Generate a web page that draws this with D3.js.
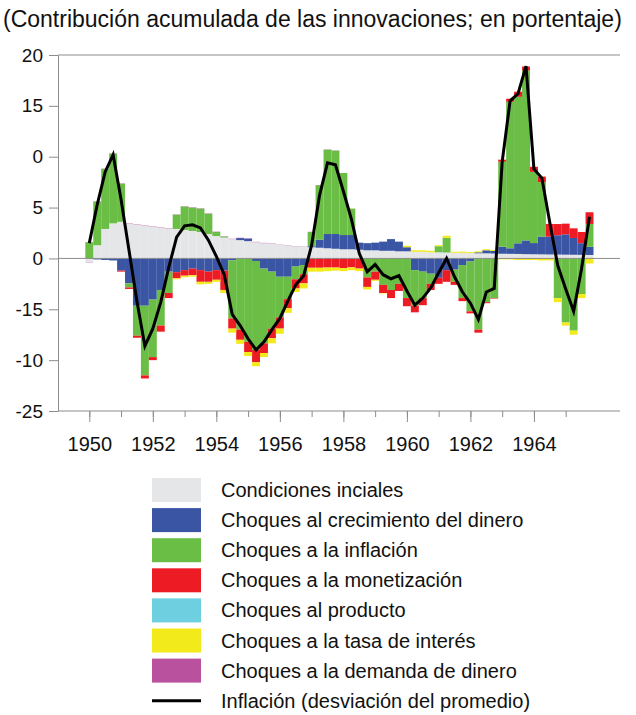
<!DOCTYPE html>
<html>
<head>
<meta charset="utf-8">
<script src="https://cdn.jsdelivr.net/npm/d3@7"></script>
<style>
  body { margin: 0; background: #fff; }
  svg { display: block; font-family: "Liberation Sans", Arial, sans-serif; }
</style>
</head>
<body>
<div id="chart"></div>
<script>
// trimestres 1950T1 - 1965T4
const years = d3.range(1950, 1966);
const quarters = [0, 0.25, 0.5, 0.75];

// contribuciones acumuladas (puntos porcentuales)
const condicionesIniciales = [-0.35, 1.3, 2.9, 3.45, 3.6, 3.45, 3.35, 3.25, 3.15, 3.05, 2.95, 2.9, 2.8, 2.7, 2.6, 2.4,
  2.2, 2.05, 1.9, 1.8, 1.7, 1.6, 1.5, 1.45, 1.35, 1.3, 1.2, 1.15, 1.1, 1.05, 1.0, 0.95,
  0.9, 0.9, 0.85, 0.8, 0.8, 0.75, 0.75, 0.7, 0.7, 0.65, 0.65, 0.6, 0.6, 0.58, 0.55, 0.55,
  0.52, 0.5, 0.5, 0.48, 0.46, 0.45, 0.44, 0.42, 0.41, 0.4, 0.39, 0.38, 0.37, 0.36, 0.35, 0.34];
const choquesDinero = [0, -0.1, -0.15, -0.2, -1.2, -2.45, -4.65, -4.65, -4.05, -3.1, -1.3, -1.35, -1.15, -1.0, -1.15, -1.3,
  -1.15, -1.2, -0.2, 0.2, 0.25, -0.25, -1.0, -1.3, -1.8, -1.8, -0.8, -0.65, 0.1, 0.8, 1.4, 1.45,
  1.4, 1.4, 0.7, 0.7, 0.75, 0.9, 1.15, 0.95, 0.4, -1.15, -1.3, -1.5, -1.9, -1.15, -1.1, -0.65,
  -0.3, 0.1, 0.3, 0.25, 0.7, 0.55, 1.05, 1.35, 1.1, 1.75, 1.75, 1.9, 2.0, 1.65, 1.15, 0.8];
const choquesInflacion = [1.6, 4.3, 5.9, 6.85, 3.75, -0.4, -2.95, -6.85, -5.65, -3.5, -2.1, 1.4, 2.3, 2.3, 2.3, 2.0,
  0.4, 0.1, -5.7, -7.0, -8.2, -8.75, -7.35, -5.6, -4.0, -2.2, -1.25, -0.9, 1.4, 5.35, 8.3, 8.2,
  6.1, 2.6, 0, -1.87, -1.3, -2.6, -3.1, -2.5, -3.9, -3.5, -2.6, -1.0, 0.6, 1.45, -1.2, -3.25,
  -4.9, -7.0, -4.3, -3.9, 8.35, 14.4, 14.4, 16.7, 7.0, 5.35, 0, -3.9, -6.3, -7.1, -3.5, 2.25];
const choquesMonetizacion = [0, 0, 0, 0, -0.1, -0.15, -0.2, -0.3, -0.3, -0.6, -0.5, -0.6, -0.55, -0.65, -1.15, -1.0,
  -0.95, -1.9, -1.0, -1.0, -1.0, -1.2, -0.95, -0.95, -1.1, -0.9, -0.9, -0.9, -0.92, -0.92, -0.9, -0.9,
  -0.95, -0.88, -1.0, -0.93, -0.8, -0.8, -0.8, -0.7, -0.8, -0.65, -0.7, -0.6, -0.6, -1.15, -0.3, -0.3,
  -0.2, -0.3, -0.1, -0.05, 0.2, 0.3, 0.5, 0.4, 0.5, 0.55, 1.25, 1.1, 1.05, 0.95, 1.1, 1.15];
const choquesProducto = [0, 0, 0, 0, 0, 0, 0, 0, 0, 0, 0, 0, 0, 0, 0, 0,
  0, 0, 0, 0, 0, 0, 0, 0, 0, 0, 0, 0, 0, 0, 0, 0,
  0, 0, 0, 0, 0, 0, 0, 0, 0, 0, 0, 0, 0, 0, 0, 0,
  0, 0, 0, 0, 0, 0, 0, 0, 0, 0, 0, 0, 0, 0, 0, 0];
const choquesTasaInteres = [0, 0, 0, 0, 0, 0, 0, 0, 0, 0, 0, -0.1, -0.15, -0.15, -0.25, -0.2,
  -0.2, -0.3, -0.4, -0.4, -0.4, -0.4, -0.4, -0.5, -0.5, -0.45, -0.35, -0.5, -0.38, -0.38, -0.35, -0.3,
  -0.3, -0.27, -0.25, -0.25, -0.1, -0.05, 0, 0, 0.15, 0.15, 0.15, 0.15, 0.1, 0.2, 0.1, 0.12,
  0.1, 0.1, 0.1, 0.1, -0.1, -0.1, -0.15, -0.15, -0.15, -0.2, -0.2, -0.4, -0.3, -0.4, -0.4, -0.5];
const choquesDemandaDinero = [-0.03, 0.02, 0.03, 0.03, 0.03, 0.03, 0.03, 0.03, 0.03, 0.03, 0.03, 0.03, 0.03, 0.03, 0.03, 0.03,
  0.03, 0.03, 0.03, 0.03, 0.03, 0.03, 0.03, 0.03, 0.02, 0.02, 0.02, 0.02, 0.02, 0.02, 0.02, 0.02,
  0, 0, 0, 0, 0, 0, 0, 0, 0, 0, 0, 0, 0, 0, 0, 0,
  0, 0, 0, 0, 0, 0, 0, 0, 0, 0, 0, 0, 0, 0, 0, 0];
const inflacion = [1.5, 5.3, 8.5, 10.2, 5.8, 0.8, -4.2, -8.6, -6.9, -4.3, -0.9, 2.1, 3.2, 3.3, 3.0, 1.8,
  0.2, -1.6, -5.5, -6.6, -7.9, -9.0, -8.2, -7.0, -5.9, -4.2, -2.6, -1.7, 1.3, 6.2, 9.4, 9.2,
  6.6, 3.9, 0.5, -1.3, -0.6, -1.6, -2.0, -1.7, -3.2, -4.6, -3.9, -2.9, -1.4, 0.0, -1.8, -3.3,
  -4.4, -6.0, -3.3, -2.95, 9.5, 15.5, 16.2, 18.9, 8.8, 7.9, 3.5, -0.7, -3.0, -5.2, -1.0, 4.1];

const seriesNames = ["Condiciones inciales", "Choques al crecimiento del dinero", "Choques a la inflación",
  "Choques a la monetización", "Choques al producto", "Choques a la tasa de interés", "Choques a la demanda de dinero"];
const seriesColors = ["#e5e6e8", "#3a55a4", "#6abd45", "#ed1c24", "#6dcfe0", "#f3ea1b", "#b9519f"];
const lineName = "Inflación (desviación del promedio)";

const yTicks = [20, 15, 10, 5, 0, -5, -10, -15];
const yTickLabels = ["20", "15", "0", "5", "0", "-15", "-10", "-25"];
const xLabelYears = [1950, 1952, 1954, 1956, 1958, 1960, 1962, 1964];
const title = "(Contribución acumulada de las innovaciones; en portentaje)";

// tabla para d3.stack
const periods = [];
years.forEach(yr => quarters.forEach(q => periods.push(yr + q)));
const allSeries = [condicionesIniciales, choquesDinero, choquesInflacion, choquesMonetizacion,
  choquesProducto, choquesTasaInteres, choquesDemandaDinero];
const table = periods.map((p, i) => {
  const row = { t: p };
  seriesNames.forEach((n, k) => { row[n] = allSeries[k][i]; });
  return row;
});

const W = 636, H = 715;
const svg = d3.select("#chart").append("svg")
  .attr("width", W)
  .attr("height", H);

const x = d3.scaleLinear().domain([1950, 1965]).range([89.3, 565.7]);
const y = d3.scaleLinear().domain([-15, 20]).range([411, 55]);
const barW = x(1950.25) - x(1950);
const axisColor = "#8c8c8c";

svg.append("text")
  .attr("x", 3)
  .attr("y", 27)
  .attr("font-size", "23px")
  .attr("fill", "#111")
  .text(title);

// series apiladas
const stack = d3.stack().keys(seriesNames).offset(d3.stackOffsetDiverging);
const layers = stack(table);

const gBars = svg.append("g");
gBars.selectAll("g.layer")
  .data(layers)
  .enter()
  .append("g")
  .attr("class", "layer")
  .attr("fill", (d, i) => seriesColors[i])
  .selectAll("rect")
  .data(d => d)
  .enter()
  .append("rect")
  .attr("x", d => x(d.data.t) - barW / 2)
  .attr("width", barW)
  .attr("y", d => y(Math.max(d[0], d[1])))
  .attr("height", d => Math.abs(y(d[0]) - y(d[1])));

// marco
svg.append("line").attr("x1", 58).attr("x2", 620).attr("y1", 55).attr("y2", 55)
  .attr("stroke", axisColor).attr("stroke-width", 1);
svg.append("line").attr("x1", 58).attr("x2", 620).attr("y1", y(0)).attr("y2", y(0))
  .attr("stroke", axisColor).attr("stroke-width", 1);
svg.append("line").attr("x1", 58).attr("x2", 620).attr("y1", 411).attr("y2", 411)
  .attr("stroke", axisColor).attr("stroke-width", 1);

// eje y
const yAxis = d3.axisLeft(y)
  .tickValues(yTicks)
  .tickSize(9)
  .tickSizeOuter(0)
  .tickPadding(6)
  .tickFormat((d, i) => yTickLabels[i]);
const gy = svg.append("g").attr("transform", "translate(58,0)").call(yAxis);
gy.select(".domain").attr("stroke", axisColor);
gy.selectAll(".tick line").attr("stroke", axisColor);
gy.selectAll(".tick text").attr("font-size", "19px").attr("fill", "#111")
  .attr("font-family", "Liberation Sans, Arial, sans-serif");

// eje x: marcas menores y mayores
const xMinor = d3.axisBottom(x).tickValues(years).tickSize(6).tickFormat("");
const gxMinor = svg.append("g").attr("transform", "translate(0,411)").call(xMinor);
gxMinor.select(".domain").remove();
gxMinor.selectAll(".tick line").attr("stroke", axisColor);

const xMajor = d3.axisBottom(x).tickValues(xLabelYears).tickSize(11).tickPadding(15).tickFormat(d3.format("d"));
const gx = svg.append("g").attr("transform", "translate(0,411)").call(xMajor);
gx.select(".domain").remove();
gx.selectAll(".tick line").attr("stroke", axisColor);
gx.selectAll(".tick text").attr("font-size", "20px").attr("fill", "#111")
  .attr("font-family", "Liberation Sans, Arial, sans-serif");

// línea de inflación
const line = d3.line()
  .x((d, i) => x(periods[i]))
  .y(d => y(d));
svg.append("path")
  .datum(inflacion)
  .attr("fill", "none")
  .attr("stroke", "#000")
  .attr("stroke-width", 3)
  .attr("stroke-linejoin", "miter")
  .attr("d", line);

// leyenda
const legend = svg.append("g").attr("transform", "translate(152,478)");
const rowH = 30.1;
seriesNames.forEach((n, i) => {
  const g = legend.append("g").attr("transform", "translate(0," + (i * rowH) + ")");
  g.append("rect").attr("width", 49).attr("height", 24).attr("fill", seriesColors[i]);
  g.append("text").attr("x", 69).attr("y", 19).attr("font-size", "20px").attr("fill", "#111").text(n);
});
const gl = legend.append("g").attr("transform", "translate(0," + (seriesNames.length * rowH) + ")");
gl.append("line").attr("x1", 0).attr("x2", 49).attr("y1", 12).attr("y2", 12)
  .attr("stroke", "#000").attr("stroke-width", 3);
gl.append("text").attr("x", 69).attr("y", 19).attr("font-size", "20px").attr("fill", "#111").text(lineName);
</script>
</body>
</html>
